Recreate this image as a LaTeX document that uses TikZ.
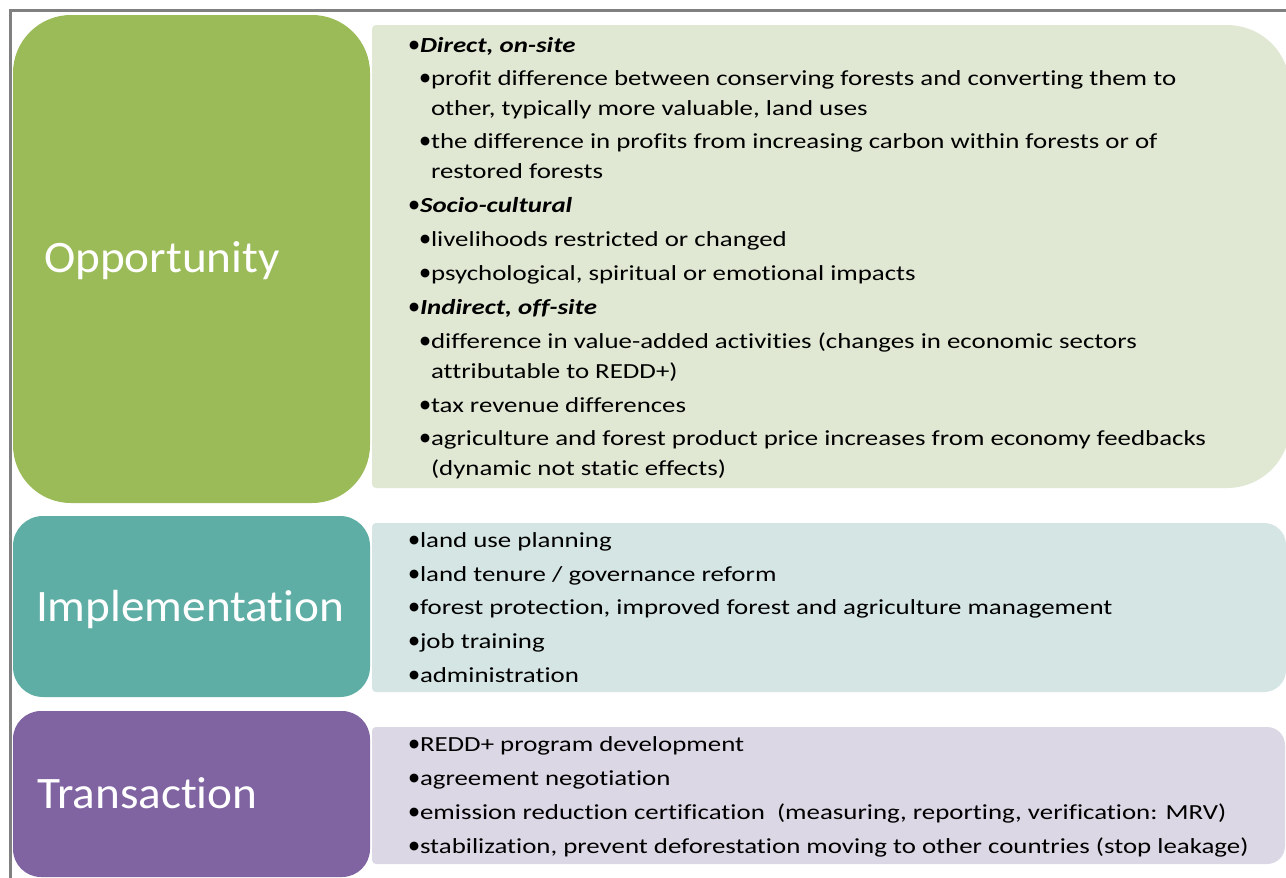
\documentclass[tikz,border=0pt]{standalone}
\usepackage{fontspec}
\setmainfont{Carlito}
\newfontfamily\bodyfont[FakeStretch=1.25, Ligatures=NoCommon]{Carlito}
\newfontfamily\labelfont[FakeStretch=1.05, Ligatures=NoCommon]{Carlito}
\newfontfamily\bulfont{DejaVu Sans}
\newcommand{\bul}{\makebox[11pt][l]{\raisebox{3.5pt}{\bulfont\fontsize{11.5}{12}\selectfont ●}}}
\definecolor{oppbox}{RGB}{155,187,89}
\definecolor{opppanel}{RGB}{224,232,212}
\definecolor{impbox}{RGB}{94,174,165}
\definecolor{imppanel}{RGB}{213,229,227}
\definecolor{trabox}{RGB}{128,100,162}
\definecolor{trapanel}{RGB}{219,215,228}
\definecolor{framegray}{RGB}{128,128,128}
\begin{document}
\begin{tikzpicture}[x=1pt,y=1pt,
  txt/.style={anchor=base west, inner sep=0pt, outer sep=0pt, font=\bodyfont\fontsize{21.5}{26}\selectfont, text=black},
  lbl/.style={anchor=base west, inner sep=0pt, outer sep=0pt, font=\labelfont\fontsize{45}{54}\selectfont, text=white}]
\useasboundingbox (0,0) rectangle (1286,-878);
\clip (0,0) rectangle (1286,-878);
\fill[white] (0,0) rectangle (1286,-878);
% frame
\draw[framegray, line width=3.2pt] (10.3,-895) -- (10.3,-10.6) -- (1300,-10.6);
% category boxes
\fill[oppbox, rounded corners=58pt] (13,-15) rectangle (370,-503);
\fill[impbox, rounded corners=30pt] (13,-516) rectangle (370,-697);
\fill[trabox, rounded corners=28pt] (13,-711) rectangle (370,-877);
% panels
\fill[opppanel] (376,-25) -- (1227,-25) arc[start angle=90,end angle=0,radius=63] -- (1290,-425) arc[start angle=0,end angle=-90,radius=63] -- (376,-488) arc[start angle=-90,end angle=-180,radius=4] -- (372,-29) arc[start angle=180,end angle=90,radius=4] -- cycle;
\fill[imppanel] (376,-523) -- (1264,-523) arc[start angle=90,end angle=0,radius=22] -- (1286,-670) arc[start angle=0,end angle=-90,radius=22] -- (376,-692) arc[start angle=-90,end angle=-180,radius=4] -- (372,-527) arc[start angle=180,end angle=90,radius=4] -- cycle;
\fill[trapanel] (376,-727) -- (1267,-727) arc[start angle=90,end angle=0,radius=18] -- (1285,-846) arc[start angle=0,end angle=-90,radius=18] -- (376,-864) arc[start angle=-90,end angle=-180,radius=4] -- (372,-731) arc[start angle=180,end angle=90,radius=4] -- cycle;
% labels
\node[lbl] (lopp) at (44,-272) {Opportunity};
\node[lbl] (limp) at (36,-621) {Implementation};
\node[lbl] (ltra) at (37,-808) {Transaction};
% opportunity text
\node[txt] (o1) at (409,-52) {\bul\textbf{\textit{Direct, on-site}}};
\node[txt] (o2) at (420,-85) {\bul profit difference between conserving forests and converting them to};
\node[txt] (o3) at (431,-115) {other, typically more valuable, land uses};
\node[txt] (o4) at (420,-148) {\bul the difference in profits from increasing carbon within forests or of};
\node[txt] (o5) at (431,-178) {restored forests};
\node[txt] (o6) at (409,-212) {\bul\textbf{\textit{Socio-cultural}}};
\node[txt] (o7) at (420,-246) {\bul livelihoods restricted or changed};
\node[txt] (o8) at (420,-280) {\bul psychological, spiritual or emotional impacts};
\node[txt] (o9) at (409,-314) {\bul\textbf{\textit{Indirect, off-site}}};
\node[txt] (o10) at (420,-348) {\bul difference in value-added activities (changes in economic sectors};
\node[txt] (o11) at (431,-378) {attributable to REDD+)};
\node[txt] (o12) at (420,-412) {\bul tax revenue differences};
\node[txt] (o13) at (420,-445) {\bul agriculture and forest product price increases from economy feedbacks};
\node[txt] (o14) at (431,-475) {(dynamic not static effects)};
% implementation text
\node[txt] (i1) at (409,-547) {\bul land use planning};
\node[txt] (i2) at (409,-581) {\bul land tenure / governance reform};
\node[txt] (i3) at (409,-614) {\bul forest protection, improved forest and agriculture management};
\node[txt] (i4) at (409,-648) {\bul job training};
\node[txt] (i5) at (409,-682) {\bul administration};
% transaction text
\node[txt] (t1) at (409,-751) {\bul REDD+ program development};
\node[txt] (t2) at (409,-785) {\bul agreement negotiation};
\node[txt] (t3) at (409,-819) {\bul emission reduction certification~ (measuring, reporting, verification: MRV)};
\node[txt] (t4) at (409,-853) {\bul stabilization, prevent deforestation moving to other countries (stop leakage)};
\end{tikzpicture}
\end{document}
